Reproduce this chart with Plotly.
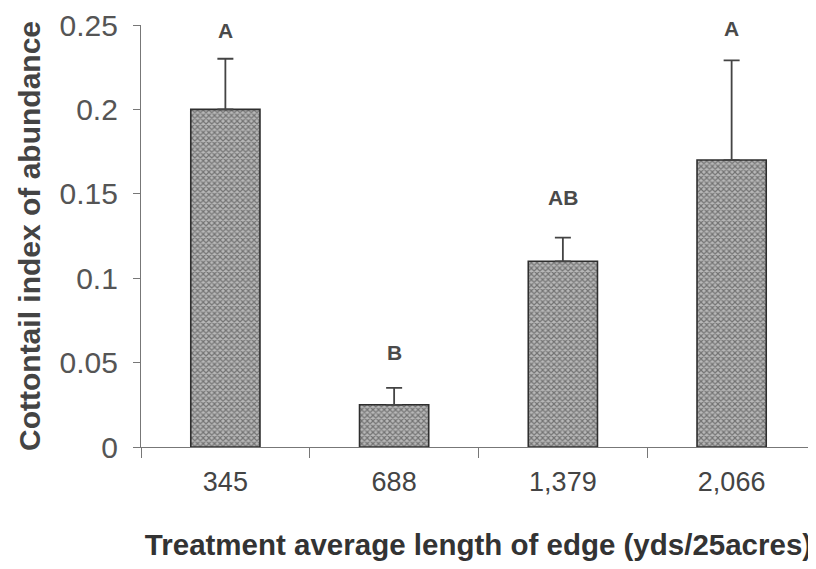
import plotly.graph_objects as go

categories = ["345", "688", "1,379", "2,066"]
values = [0.20, 0.025, 0.11, 0.17]
errors = [0.030, 0.010, 0.014, 0.059]
letters = ["A", "B", "AB", "A"]
letter_y = [0.247, 0.056, 0.148, 0.248]

fig = go.Figure()
fig.add_trace(go.Bar(
    x=categories, y=values, width=0.41,
    marker=dict(
        color="#909090",
        line=dict(color="#2e2e2e", width=1.6),
        pattern=dict(shape="x", fgcolor="#2e2e2e", bgcolor="#b8b8b8", size=4, solidity=0.5),
    ),
    error_y=dict(type="data", symmetric=False, array=errors, arrayminus=[0]*4,
                 color="#444444", thickness=1.8, width=8),
    showlegend=False,
))

for i, (t, yy) in enumerate(zip(letters, letter_y)):
    fig.add_annotation(x=i, y=yy, xref="x", yref="y", text="<b>" + t + "</b>", showarrow=False,
                       font=dict(family="Liberation Sans", size=21, color="#4a4a4a"),
                       yanchor="middle")

fig.update_layout(
    width=808, height=561,
    margin=dict(l=133, r=0, t=17, b=122, autoexpand=False),
    paper_bgcolor="white", plot_bgcolor="white",
    xaxis=dict(
        type="category", range=[-0.5, 3.5],
        showline=True, linecolor="#777777", linewidth=1.2,
        ticks="outside", tickson="boundaries", ticklen=10, tickcolor="#777777",
        ticklabelstandoff=10,
        tickfont=dict(family="Liberation Sans", size=27, color="#444444"),
        title=dict(text="<b>Treatment average length of edge (yds/25acres)</b>",
                   font=dict(family="Liberation Sans", size=29.5, color="#333333"), standoff=38),
        showgrid=False,
    ),
    yaxis=dict(
        range=[0, 0.25], tickvals=[0, 0.05, 0.1, 0.15, 0.2, 0.25],
        ticktext=["0", "0.05", "0.1", "0.15", "0.2", "0.25"],
        showline=True, linecolor="#777777", linewidth=1.2,
        ticks="outside", ticklen=7, tickcolor="#777777",
        ticklabelstandoff=9,
        tickfont=dict(family="Liberation Sans", size=30, color="#555555"),
        title=dict(text="<b>Cottontail index of abundance</b>",
                   font=dict(family="Liberation Sans", size=30, color="#444444"), standoff=10),
        showgrid=False, zeroline=False,
    ),
)

fig.write_html("out.html")
